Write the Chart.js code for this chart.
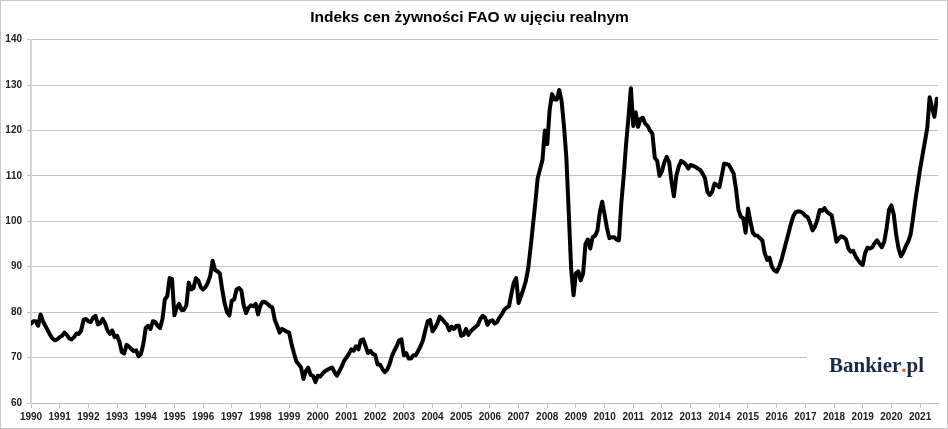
<!DOCTYPE html>
<html><head><meta charset="utf-8">
<script src="https://cdn.jsdelivr.net/npm/chart.js@4.4.1/dist/chart.umd.min.js"></script>
<style>
html,body{margin:0;padding:0;background:#fff;}
#wrap{width:946px;height:427px;border:1px solid #c8c8c8;position:relative;}
canvas{display:block;}
</style></head><body>
<div id="wrap"><canvas id="c" width="946" height="427"></canvas></div>
<script>
const chartTitle = 'Indeks cen żywności FAO w ujęciu realnym';
const startYear = 1990;
const yTicks = [60, 70, 80, 90, 100, 110, 120, 130, 140];
const yearTicks = [1990, 1991, 1992, 1993, 1994, 1995, 1996, 1997, 1998, 1999, 2000, 2001, 2002, 2003, 2004, 2005,
  2006, 2007, 2008, 2009, 2010, 2011, 2012, 2013, 2014, 2015, 2016, 2017, 2018, 2019, 2020, 2021];
// monthly values, Jan 1990 onward
const values = [
  77.5, 78, 78, 77, 79.5, 78, 77, 76, 75, 74.2, 73.8, 74,            // 1990
  74.5, 74.8, 75.5, 75, 74.2, 74, 74.5, 75.3, 75.2, 76, 78.3, 78.5,  // 1991
  78, 77.8, 78.8, 79.2, 77.3, 77.6, 78.5, 77.5, 76, 75.2, 76, 74.5,  // 1992
  74.8, 73.5, 71.2, 70.9, 72.8, 72.4, 71.9, 71.4, 71.6, 70.3, 70.8, 73, // 1993
  76.5, 77, 76.3, 78, 77.8, 77, 76.5, 78.5, 82.8, 83.5, 87.5, 87.3,  // 1994
  79.3, 81, 81.8, 80.5, 80.5, 81.5, 86.5, 85, 85.3, 87.5, 87, 85.5,  // 1995
  85, 85.5, 86.5, 88, 91.3, 89.3, 89, 88.5, 85, 82, 80, 79.3,        // 1996
  82.5, 82.8, 85, 85.3, 84.8, 81.5, 79.8, 81, 81.5, 81.3, 81.8, 79.5, // 1997
  81.5, 82.3, 82.2, 81.8, 81.3, 81, 78.3, 77, 75.5, 76.3, 76, 75.7,  // 1998
  75.5, 73, 71, 69.2, 68.5, 67.8, 65.3, 67, 67.8, 66.2, 66, 64.6,    // 1999
  66, 65.8, 66.5, 67, 67.3, 67.6, 67.8, 66.8, 66, 67, 68, 69.3,      // 2000
  70, 70.8, 71.8, 71.5, 72.5, 71.8, 73.8, 74, 72.5, 71, 71.5, 70.8,  // 2001
  70.6, 68.5, 68.5, 67.5, 66.8, 67.3, 68.5, 70.3, 71.5, 72.5, 73.8, 74, // 2002
  70.5, 71, 69.8, 69.8, 70.5, 70.5, 71.5, 72.5, 73.8, 76, 78, 78.3,  // 2003
  75.8, 76.5, 77.5, 79, 78.5, 77.8, 77.3, 76, 76.8, 76.3, 77, 77,    // 2004
  74.8, 75, 76.3, 75, 75.8, 76.3, 76.8, 77.2, 78.5, 79.2, 78.8, 77.2, // 2005
  78, 78.2, 77.5, 77.8, 78.8, 79.5, 80.5, 81, 81.3, 84, 86.5, 87.5,  // 2006
  82, 83.5, 85, 86.8, 89.5, 94, 99, 104, 109.5, 111.5, 113.5, 120,   // 2007
  117, 124.5, 128, 126.8, 126.8, 128.9, 126.5, 121, 114, 102, 89.5, 83.7, // 2008
  88.5, 89, 87, 88.5, 95, 96, 94, 96.5, 96.8, 98, 102, 104.3,        // 2009
  101.5, 98.5, 96.3, 96.5, 96.5, 96, 95.8, 104, 110, 117, 123, 129.3, // 2010
  121, 124, 120.8, 122.5, 122.8, 121.5, 121, 120, 119.3, 114, 113.3, 110, // 2011
  111, 113, 114.2, 113, 108.8, 105.5, 110, 112, 113.3, 113, 112.5, 111.6, // 2012
  112.4, 112.2, 112, 111.6, 111.3, 110.5, 109.5, 106.5, 105.8, 106.5, 108.3, 108, // 2013
  107.5, 110, 112.7, 112.6, 112.4, 111.5, 110.5, 107, 102.5, 101, 100.7, 97.5, // 2014
  102.8, 100, 97.5, 96.9, 96.8, 96.3, 95.8, 93, 91.5, 92, 90, 89.2,  // 2015
  88.9, 89.9, 91.5, 93.5, 95.5, 97.5, 99.5, 101.2, 102, 102.2, 102.1, 101.8, // 2016
  101.2, 100.9, 99.6, 98, 98.8, 100.3, 102.5, 102.3, 102.9, 102.1, 101.7, 101.3, // 2017
  98.5, 95.5, 96.2, 96.7, 96.5, 96, 94, 93.3, 93.5, 92.3, 91.5, 90.8, // 2018
  90.4, 93, 94.2, 94, 94.3, 95.2, 95.8, 95, 94.3, 95.5, 98.5, 102.5, // 2019
  103.5, 101.5, 97, 94, 92.3, 93.2, 94.5, 95.5, 97, 100.5, 104.5, 108, // 2020
  111.5, 114.5, 117.5, 120.5, 127.3, 125, 123, 127                   // 2021
];
const xMin = 1990;
const xMax = 2021.625;

const points = values.map((v, i) => ({ x: startYear + i / 12, y: v }));

const logoPlugin = {
  id: 'logo',
  beforeDatasetsDraw(chart) {
    const ctx = chart.ctx;
    const y70 = chart.scales.y.getPixelForValue(70);
    ctx.save();
    ctx.fillStyle = '#ffffff';
    ctx.fillRect(806, y70 - 3, chart.chartArea.right - 806 + 3, 6);
    ctx.restore();
  },
  afterDraw(chart) {
    const ctx = chart.ctx;
    ctx.save();
    ctx.font = 'bold 21px "Liberation Serif"';
    ctx.textBaseline = 'alphabetic';
    let x = 828, y = 371;
    const parts = [['Bankier', '#1b2a4b'], ['.', '#ee5a24'], ['pl', '#1b2a4b']];
    for (const [t, c] of parts) {
      ctx.fillStyle = c;
      ctx.fillText(t, x, y);
      x += ctx.measureText(t).width;
    }
    ctx.restore();
  }
};

new Chart(document.getElementById('c'), {
  type: 'line',
  data: {
    datasets: [{
      data: points,
      borderColor: '#000000',
      borderWidth: 4,
      pointRadius: 0,
      tension: 0,
      fill: false,
      borderJoinStyle: 'round',
      borderCapStyle: 'round'
    }]
  },
  options: {
    responsive: false,
    animation: false,
    devicePixelRatio: 1,
    layout: { padding: { left: 0, right: 9, top: 0, bottom: 0 } },
    plugins: {
      legend: { display: false },
      tooltip: { enabled: false },
      title: {
        display: true,
        text: chartTitle,
        color: '#000000',
        font: { family: '"Liberation Sans", Arial, sans-serif', size: 15.5, weight: 'bold' },
        padding: { top: 7, bottom: 13 }
      }
    },
    scales: {
      x: {
        type: 'linear',
        min: xMin,
        max: xMax,
        afterFit: s => { s.height = 25; },
        afterBuildTicks: s => { s.ticks = yearTicks.map(v => ({ value: v })); },
        ticks: {
          autoSkip: false,
          maxRotation: 0,
          padding: 3,
          color: '#222222',
          font: { family: '"Liberation Sans", Arial, sans-serif', size: 10, weight: 'bold' },
          callback: v => String(v)
        },
        grid: { drawOnChartArea: false, drawTicks: true, tickLength: 5, color: '#bfbfbf' },
        border: { color: '#bfbfbf', width: 1 }
      },
      y: {
        min: 60,
        max: 140,
        afterFit: s => { s.width = 30; },
        afterBuildTicks: s => { s.ticks = yTicks.map(v => ({ value: v })); },
        ticks: {
          padding: 5,
          color: '#222222',
          font: { family: '"Liberation Sans", Arial, sans-serif', size: 10, weight: 'bold' }
        },
        grid: { color: '#c4c4c4', lineWidth: 1, tickLength: 4 },
        border: { color: '#d6d6d6', width: 2 }
      }
    }
  },
  plugins: [logoPlugin]
});
</script>
</body></html>
